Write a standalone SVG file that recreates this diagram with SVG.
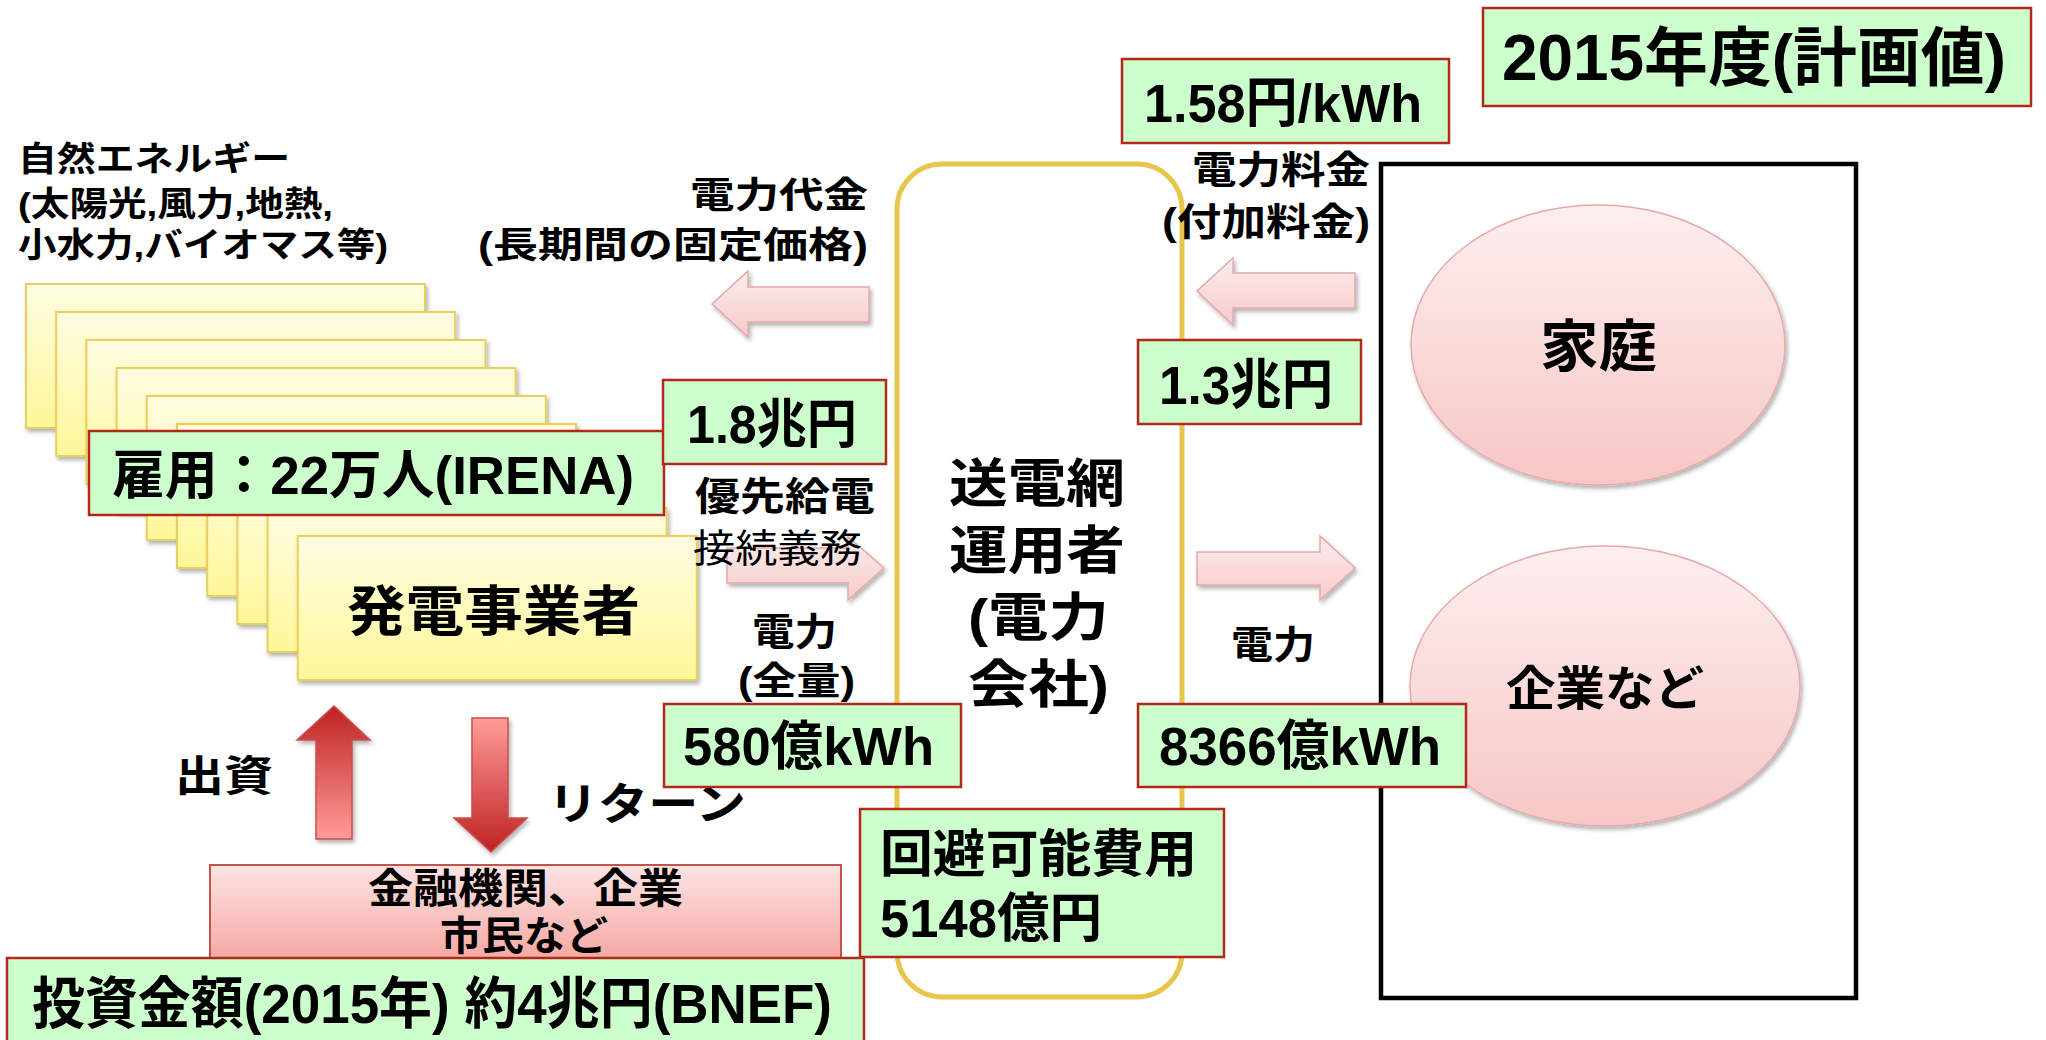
<svg xmlns="http://www.w3.org/2000/svg" width="2046" height="1040" viewBox="0 0 2046 1040">
<defs>
<linearGradient id="gYellow" x1="0" y1="0" x2="0" y2="1"><stop offset="0" stop-color="#FFFDE2"/><stop offset="1" stop-color="#FFF799"/></linearGradient>
<linearGradient id="gPinkArrow" x1="0" y1="0" x2="0" y2="1"><stop offset="0" stop-color="#FDEDED"/><stop offset="1" stop-color="#F7CACA"/></linearGradient>
<linearGradient id="gEllipse" x1="0" y1="0" x2="0" y2="1"><stop offset="0" stop-color="#FDEFEF"/><stop offset="1" stop-color="#F6C7C5"/></linearGradient>
<linearGradient id="gFin" x1="0" y1="0" x2="0" y2="1"><stop offset="0" stop-color="#FDE4E4"/><stop offset="1" stop-color="#F39E98"/></linearGradient>
<linearGradient id="gUp" x1="0" y1="0" x2="0" y2="1"><stop offset="0" stop-color="#BE2222"/><stop offset="1" stop-color="#FF9C98"/></linearGradient>
<linearGradient id="gDown" x1="0" y1="0" x2="0" y2="1"><stop offset="0" stop-color="#FF9C98"/><stop offset="1" stop-color="#BE2222"/></linearGradient>
<filter id="sh" x="-10%" y="-10%" width="130%" height="130%"><feDropShadow dx="2" dy="3" stdDeviation="2" flood-color="#000" flood-opacity="0.3"/></filter>
</defs>
<style>
text{font-family:"Liberation Sans","Noto Sans CJK JP",sans-serif;font-weight:bold;fill:#000}
.reg{font-family:"Liberation Serif","Noto Sans CJK JP",serif;font-weight:normal}
.card{fill:url(#gYellow);stroke:#E9CF5C;stroke-width:2}
.gbox{fill:#CCFFCC;stroke:#B3281B;stroke-width:2.5}
.parrow{fill:url(#gPinkArrow);stroke:#E6A9A9;stroke-width:1.5}
.ell{fill:url(#gEllipse);stroke:#E7A9A9;stroke-width:1.5}
</style>
<rect width="2046" height="1040" fill="#fff"/>

<g id="source-label">
<text x="18" y="171" font-size="34" textLength="272" lengthAdjust="spacingAndGlyphs">自然エネルギー</text>
<text x="18" y="216" font-size="34" textLength="315" lengthAdjust="spacingAndGlyphs">(太陽光,風力,地熱,</text>
<text x="18" y="257" font-size="34" textLength="370" lengthAdjust="spacingAndGlyphs">小水力,バイオマス等)</text>
</g>

<g id="generators">
<rect class="card" filter="url(#sh)" x="26" y="284" width="399" height="144"/>
<rect class="card" filter="url(#sh)" x="56.2" y="312" width="399" height="144"/>
<rect class="card" filter="url(#sh)" x="86.4" y="340" width="399" height="144"/>
<rect class="card" filter="url(#sh)" x="116.6" y="368" width="399" height="144"/>
<rect class="card" filter="url(#sh)" x="146.8" y="396" width="399" height="144"/>
<rect class="card" filter="url(#sh)" x="177" y="424" width="399" height="144"/>
<rect class="card" filter="url(#sh)" x="207.2" y="452" width="399" height="144"/>
<rect class="card" filter="url(#sh)" x="237.4" y="480" width="399" height="144"/>
<rect class="card" filter="url(#sh)" x="267.6" y="508" width="399" height="144"/>
<rect class="card" filter="url(#sh)" x="297.8" y="536" width="399" height="144"/>
<text x="347" y="631" font-size="54" textLength="293" lengthAdjust="spacingAndGlyphs">発電事業者</text>
</g>

<g id="employment">
<rect class="gbox" x="89" y="431" width="575" height="84"/>
<text x="112" y="494" font-size="53" textLength="522" lengthAdjust="spacingAndGlyphs">雇用：22万人(IRENA)</text>
</g>

<g id="grid-operator">
<rect x="897" y="164" width="285" height="833" rx="45" ry="45" fill="#fff" stroke="#E8C64E" stroke-width="5"/>
<text x="949" y="502" font-size="52" textLength="176" lengthAdjust="spacingAndGlyphs">送電網</text>
<text x="949" y="569" font-size="52" textLength="176" lengthAdjust="spacingAndGlyphs">運用者</text>
<text x="968" y="636" font-size="52" textLength="141" lengthAdjust="spacingAndGlyphs">(電力</text>
<text x="968" y="703" font-size="52" textLength="141" lengthAdjust="spacingAndGlyphs">会社)</text>
</g>

<g id="consumers">
<rect x="1381" y="164" width="475" height="834" fill="none" stroke="#000" stroke-width="4.5"/>
</g>
<g id="household">
<ellipse class="ell" filter="url(#sh)" cx="1598" cy="345" rx="187" ry="140"/>
<text x="1540" y="366" font-size="56" textLength="117" lengthAdjust="spacingAndGlyphs">家庭</text>
</g>
<g id="companies">
<ellipse class="ell" filter="url(#sh)" cx="1605" cy="686" rx="195" ry="140"/>
<text x="1506" y="705" font-size="47" textLength="198" lengthAdjust="spacingAndGlyphs">企業など</text>
</g>

<g id="connectors">
<path class="parrow" filter="url(#sh)" d="M712,304 L748,271 L748,287 L869,287 L869,322 L748,322 L748,337 Z"/>
<path class="parrow" filter="url(#sh)" d="M727,548 L848,548 L848,537 L884,568 L848,600 L848,583 L727,583 Z"/>
<path class="parrow" filter="url(#sh)" d="M1197,291 L1233,258 L1233,273 L1355,273 L1355,308 L1233,308 L1233,325 Z"/>
<path class="parrow" filter="url(#sh)" d="M1197,552 L1320,552 L1320,536 L1355,568 L1320,600 L1320,585 L1197,585 Z"/>
<path filter="url(#sh)" fill="url(#gUp)" stroke="#C9504A" stroke-width="1.5" d="M334,706 L370,740 L352,740 L352,839 L316,839 L316,740 L297,740 Z"/>
<path filter="url(#sh)" fill="url(#gDown)" stroke="#C9504A" stroke-width="1.5" d="M472,718 L508,718 L508,818 L527,818 L491,852 L454,818 L472,818 Z"/>
</g>

<g id="labels">
<text x="690" y="208" font-size="36" textLength="178" lengthAdjust="spacingAndGlyphs">電力代金</text>
<text x="478" y="258" font-size="36" textLength="390" lengthAdjust="spacingAndGlyphs">(長期間の固定価格)</text>
<text x="695" y="510" font-size="39" textLength="180" lengthAdjust="spacingAndGlyphs">優先給電</text>
<text class="reg" x="693" y="562" font-size="39" textLength="169" lengthAdjust="spacingAndGlyphs">接続義務</text>
<text x="752" y="645" font-size="38" textLength="85" lengthAdjust="spacingAndGlyphs">電力</text>
<text x="738" y="694" font-size="38" textLength="117" lengthAdjust="spacingAndGlyphs">(全量)</text>
<text x="1192" y="183" font-size="38" textLength="178" lengthAdjust="spacingAndGlyphs">電力料金</text>
<text x="1162" y="235" font-size="38" textLength="208" lengthAdjust="spacingAndGlyphs">(付加料金)</text>
<text x="1231" y="658" font-size="38" textLength="84" lengthAdjust="spacingAndGlyphs">電力</text>
<text x="175" y="791" font-size="42" textLength="98" lengthAdjust="spacingAndGlyphs">出資</text>
<text x="548" y="820" font-size="44" textLength="198" lengthAdjust="spacingAndGlyphs">リターン</text>
</g>

<g id="title">
<rect class="gbox" x="1483" y="8" width="548" height="98"/>
<text x="1502" y="80" font-size="64" textLength="504" lengthAdjust="spacingAndGlyphs">2015年度(計画値)</text>
</g>
<g id="surcharge-rate">
<rect class="gbox" x="1122" y="59" width="327" height="84"/>
<text x="1144" y="122" font-size="54" textLength="278" lengthAdjust="spacingAndGlyphs">1.58円/kWh</text>
</g>
<g id="payment-to-generators">
<rect class="gbox" x="663" y="380" width="223" height="84"/>
<text x="687" y="443" font-size="53" textLength="170" lengthAdjust="spacingAndGlyphs">1.8兆円</text>
</g>
<g id="surcharge-total">
<rect class="gbox" x="1138" y="340" width="223" height="84"/>
<text x="1159" y="404" font-size="54" textLength="174" lengthAdjust="spacingAndGlyphs">1.3兆円</text>
</g>
<g id="generation-volume">
<rect class="gbox" x="664" y="704" width="297" height="83"/>
<text x="683" y="765" font-size="53" textLength="251" lengthAdjust="spacingAndGlyphs">580億kWh</text>
</g>
<g id="consumption-volume">
<rect class="gbox" x="1138" y="704" width="328" height="83"/>
<text x="1159" y="765" font-size="54" textLength="282" lengthAdjust="spacingAndGlyphs">8366億kWh</text>
</g>
<g id="avoided-cost">
<rect class="gbox" x="860" y="809" width="364" height="148"/>
<text x="880" y="872" font-size="51" textLength="317" lengthAdjust="spacingAndGlyphs">回避可能費用</text>
<text x="880" y="937" font-size="53" textLength="222" lengthAdjust="spacingAndGlyphs">5148億円</text>
</g>
<g id="investors">
<rect x="210" y="865" width="631" height="110" fill="url(#gFin)" stroke="#C6524C" stroke-width="2"/>
<text x="368" y="903" font-size="41" textLength="315" lengthAdjust="spacingAndGlyphs">金融機関、企業</text>
<text x="440" y="950" font-size="40" textLength="168" lengthAdjust="spacingAndGlyphs">市民など</text>
</g>
<g id="investment">
<rect class="gbox" x="7" y="958" width="857" height="100"/>
<text x="32" y="1023" font-size="56" textLength="800" lengthAdjust="spacingAndGlyphs">投資金額(2015年) 約4兆円(BNEF)</text>
</g>
</svg>
